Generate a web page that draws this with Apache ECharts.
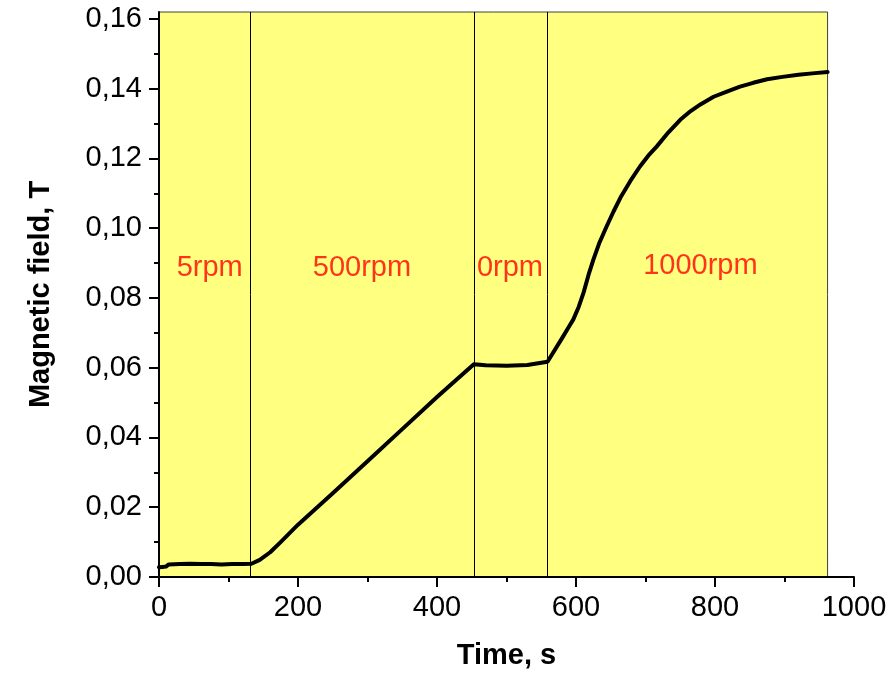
<!DOCTYPE html>
<html><head><meta charset="utf-8">
<script src="https://cdn.jsdelivr.net/npm/echarts@6/dist/echarts.min.js"></script>
<style>html,body{margin:0;padding:0;background:#fff}#c{width:896px;height:675px}</style>
</head><body><div id="c"></div>
<script>
// Data
const timeS = [0, 5, 10, 14, 16, 30, 45, 60, 75, 90, 105, 120, 133, 145, 160, 175, 200, 250, 300, 350, 400, 453, 470, 500, 530, 559, 580, 590, 596, 604, 611, 618, 625, 634, 644, 654, 664, 678, 692, 704, 716, 733, 750, 765, 779, 798, 817, 836, 855, 875, 897, 920, 940, 962];
const fieldT = [0.0028, 0.0029, 0.0030, 0.0036, 0.0038, 0.0037, 0.0038, 0.0037, 0.0037, 0.0036, 0.0037, 0.0037, 0.0038, 0.0049, 0.0071, 0.0100, 0.0150, 0.0240, 0.0332, 0.0424, 0.0516, 0.0610, 0.0607, 0.0606, 0.0608, 0.0617, 0.0685, 0.0718, 0.0738, 0.0775, 0.0816, 0.0866, 0.0910, 0.0960, 0.1005, 0.1048, 0.1088, 0.1135, 0.1177, 0.1208, 0.1234, 0.1275, 0.1311, 0.1336, 0.1355, 0.1377, 0.1392, 0.1406, 0.1417, 0.1427, 0.1434, 0.1440, 0.1444, 0.1448];
const regionStart = 0;
const regionEnd = 962;
const dividers = [132, 453, 559];
const labelTexts = ['5rpm', '500rpm', '0rpm', '1000rpm'];
const labelTimes = [73, 292, 505, 779];
const labelFields = [0.0886, 0.0886, 0.0886, 0.0893];
const yMajorTicks = [0, 0.02, 0.04, 0.06, 0.08, 0.10, 0.12, 0.14, 0.16];
const yMinorTicks = [0.01, 0.03, 0.05, 0.07, 0.09, 0.11, 0.13, 0.15];
const yMax = 0.162;

const chart = echarts.init(document.getElementById('c'), null, {renderer: 'canvas'});
const font = '"Liberation Sans", Arial, sans-serif';
chart.setOption({
  animation: false,
  grid: {left: 159, right: 42, top: 12, bottom: 97, containLabel: false},
  xAxis: {
    type: 'value', min: 0, max: 1000, interval: 200, z: 10,
    name: 'Time, s', nameLocation: 'middle', nameGap: 64,
    nameTextStyle: {fontFamily: font, fontWeight: 'bold', fontSize: 29, color: '#000'},
    axisLine: {show: true, onZero: false, lineStyle: {color: '#000', width: 2}},
    axisTick: {show: true, length: 10, lineStyle: {color: '#000', width: 2}},
    minorTick: {show: true, splitNumber: 2, length: 5, lineStyle: {color: '#000', width: 2}},
    splitLine: {show: false},
    axisLabel: {fontFamily: font, fontSize: 29, color: '#000', margin: 16, formatter: v => String(v)}
  },
  yAxis: [{
    type: 'value', min: 0, max: yMax, z: 10,
    name: 'Magnetic field, T', nameLocation: 'middle', nameGap: 104,
    nameTextStyle: {fontFamily: font, fontWeight: 'bold', fontSize: 29, color: '#000'},
    axisLine: {show: true, onZero: false, lineStyle: {color: '#000', width: 2}},
    axisTick: {show: true, length: 10, customValues: yMajorTicks, lineStyle: {color: '#000', width: 2}},
    splitLine: {show: false},
    axisLabel: {fontFamily: font, fontSize: 29, color: '#000', margin: 17, customValues: yMajorTicks,
      formatter: v => v.toFixed(2).replace('.', ',')}
  }, {
    type: 'value', min: 0, max: yMax, position: 'left', z: 10,
    axisLine: {show: false},
    axisTick: {show: true, length: 5, customValues: yMinorTicks, lineStyle: {color: '#000', width: 2}},
    axisLabel: {show: false},
    splitLine: {show: false}
  }],
  series: [{
    type: 'line',
    data: timeS.map((t, i) => [t, fieldT[i]]),
    showSymbol: false,
    smooth: false,
    lineStyle: {color: '#000', width: 4, join: 'round', cap: 'round'},
    z: 5,
    markArea: {
      silent: true,
      itemStyle: {color: '#ffff80', borderColor: '#404040', borderWidth: 1},
      data: [[{xAxis: regionStart, yAxis: 0}, {xAxis: regionEnd, yAxis: yMax}]]
    },
    markLine: {
      silent: true, symbol: 'none', animation: false,
      label: {show: false},
      lineStyle: {color: '#000', width: 1, type: 'solid'},
      data: dividers.map(d => ({xAxis: d}))
    }
  }, {
    type: 'scatter',
    symbolSize: 0,
    z: 6,
    data: labelTexts.map((s, i) => ({name: s, value: [labelTimes[i], labelFields[i]]})),
    label: {show: true, position: 'inside', formatter: p => p.name,
      fontFamily: font, fontSize: 29, color: '#ff0000'}
  }]
});
</script></body></html>
